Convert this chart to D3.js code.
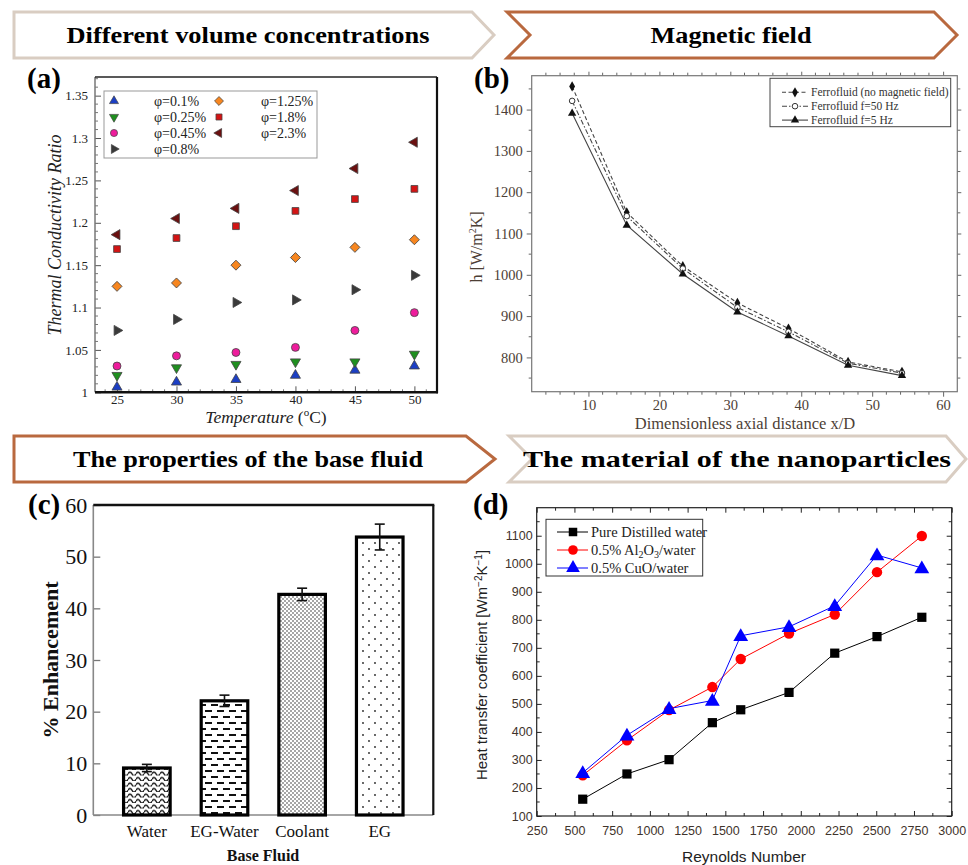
<!DOCTYPE html>
<html lang="en">
<head>
  <meta charset="UTF-8">
  <title>Nanofluid heat transfer factors</title>
  <script src="https://d3js.org/d3.v7.min.js"></script>
  <style>
    body { margin: 0; background: #fff; }
    svg { display: block; }
  </style>
</head>
<body>
  <svg width="968" height="865"></svg>
  <script>

    // header titles
    const headerTitles = ["Different volume concentrations", "Magnetic field",
      "The properties of the base fluid", "The material of the nanoparticles"];

    // (a) thermal conductivity ratio vs temperature
    const tcTemps = [25, 30, 35, 40, 45, 50];
    const tcLabels = ["φ=0.1%", "φ=0.25%", "φ=0.45%", "φ=0.8%", "φ=1.25%", "φ=1.8%", "φ=2.3%"];
    const phi01 = [1.006, 1.012, 1.015, 1.020, 1.026, 1.031];
    const phi025 = [1.020, 1.029, 1.033, 1.036, 1.036, 1.045];
    const phi045 = [1.031, 1.043, 1.047, 1.053, 1.073, 1.094];
    const phi08 = [1.073, 1.086, 1.106, 1.109, 1.121, 1.138];
    const phi125 = [1.125, 1.129, 1.150, 1.159, 1.171, 1.180];
    const phi18 = [1.169, 1.182, 1.196, 1.214, 1.228, 1.240];
    const phi23 = [1.186, 1.205, 1.217, 1.238, 1.264, 1.295];

    // (b) h vs x/D
    const xdPos = [7.7, 15.4, 23.3, 31, 38.2, 46.6, 54.2];
    const hNoField = [1456, 1151, 1021, 932, 870, 789, 765];
    const h50Hz = [1421, 1142, 1015, 921, 862, 786, 762];
    const h5Hz = [1391, 1120, 1002, 910, 852, 781, 756];
    const magLabels = ["Ferrofluid (no magnetic field)", "Ferrofluid f=50 Hz", "Ferrofluid f=5 Hz"];

    // (c) enhancement by base fluid
    const baseFluids = ["Water", "EG-Water", "Coolant", "EG"];
    const enhancement = [9.1, 22.1, 42.7, 53.8];
    const enhancementErr = [0.7, 1.1, 1.2, 2.5];

    // (d) h vs Reynolds number
    const reynolds = [555, 848, 1127, 1414, 1602, 1922, 2225, 2505, 2802];
    const hWater = [160, 250, 301, 433, 479, 541, 681, 740, 809];
    const hAl2O3 = [245, 370, 478, 560, 660, 751, 819, 970, 1099];
    const hCuO = [254, 388, 483, 512, 743, 775, 850, 1031, 985];

    const SERIF = "Liberation Serif, Times New Roman, serif";
    const SANS = "Liberation Sans, Arial, sans-serif";

    const svg = d3.select("svg");
    const defs = svg.append("defs");

    // ---------- headers ----------
    const headerBoxes = [
      {x0: 14, x1: 472, tip: 494, y0: 12, y1: 58, notch: 0, color: "#d9cdc2", tx: 248, tw: 363},
      {x0: 507, x1: 934, tip: 957, y0: 12, y1: 58, notch: 23, color: "#b9693f", tx: 731, tw: 161},
      {x0: 14, x1: 466, tip: 495, y0: 436, y1: 482, notch: 0, color: "#b9693f", tx: 248, tw: 350},
      {x0: 509, x1: 946, tip: 966, y0: 436, y1: 482, notch: 23, color: "#d9cdc2", tx: 737, tw: 428}
    ];
    headerBoxes.forEach((b, i) => {
      const ym = (b.y0 + b.y1) / 2;
      const p = d3.path();
      p.moveTo(b.x0, b.y0); p.lineTo(b.x1, b.y0); p.lineTo(b.tip, ym);
      p.lineTo(b.x1, b.y1); p.lineTo(b.x0, b.y1);
      if (b.notch) p.lineTo(b.x0 + b.notch, ym);
      p.closePath();
      svg.append("path").attr("d", p.toString())
        .attr("fill", "#fff").attr("stroke", b.color).attr("stroke-width", 3);
      svg.append("text").attr("font-family", SERIF)
        .attr("x", b.tx).attr("y", ym + 8)
        .attr("text-anchor", "middle")
        .attr("font-size", 23).attr("font-weight", "bold")
        .attr("textLength", b.tw).attr("lengthAdjust", "spacingAndGlyphs")
        .text(headerTitles[i]);
    });

    // panel letters
    [["(a)", 27, 88], ["(b)", 474, 88], ["(c)", 28, 514], ["(d)", 473, 514]].forEach(d => {
      svg.append("text").attr("font-family", SERIF).attr("x", d[1]).attr("y", d[2])
        .attr("font-size", 29).attr("font-weight", "bold").text(d[0]);
    });

    function minorTicks(g, scale, values, orient, pos, len, color) {
      values.forEach(v => {
        const p = scale(v);
        if (orient === "x") {
          g.append("line").attr("x1", p).attr("x2", p).attr("y1", pos).attr("y2", pos + len)
            .attr("stroke", color).attr("stroke-width", 1);
        } else {
          g.append("line").attr("y1", p).attr("y2", p).attr("x1", pos).attr("x2", pos + len)
            .attr("stroke", color).attr("stroke-width", 1);
        }
      });
    }

    // ---------- (a) ----------
    {
      const L = 95, R = 437, T = 77, B = 392.3;
      const x = d3.scaleLinear().domain([23.15, 51.9]).range([L, R]);
      const y = d3.scaleLinear().domain([1, 1.372]).range([B, T]);
      const g = svg.append("g").attr("font-family", SERIF);

      const xAxis = g.append("g").attr("transform", `translate(0,${B})`)
        .call(d3.axisBottom(x).tickValues(tcTemps).tickSize(-6).tickPadding(2));
      const yAxis = g.append("g").attr("transform", `translate(${L},0)`)
        .call(d3.axisLeft(y).tickValues(d3.range(1, 1.351, 0.05)).tickSize(-6).tickPadding(7)
          .tickFormat(d => String(+d.toFixed(2))));
      [xAxis, yAxis].forEach(a => {
        a.select(".domain").remove();
        a.selectAll("line").attr("stroke", "#555");
        a.selectAll("text").attr("font-family", SERIF).attr("font-size", 13).attr("fill", "#222");
      });
      minorTicks(g, x, d3.range(24, 52, 1).filter(v => v % 5), "x", B, -3, "#777");
      minorTicks(g, y, d3.range(1.01, 1.37, 0.01).filter(v => Math.round(v * 100) % 5), "y", L, 3, "#777");

      g.append("line").attr("x1", L).attr("x2", L).attr("y1", T).attr("y2", B).attr("stroke", "#777").attr("stroke-width", 1.5);
      g.append("line").attr("x1", L).attr("x2", R).attr("y1", T).attr("y2", T).attr("stroke", "#222").attr("stroke-width", 1.5);
      g.append("line").attr("x1", R).attr("x2", R).attr("y1", T).attr("y2", B + 1).attr("stroke", "#111").attr("stroke-width", 2.2);
      g.append("line").attr("x1", L).attr("x2", R + 1).attr("y1", B).attr("y2", B).attr("stroke", "#111").attr("stroke-width", 2.5);

      const tcSeries = [phi01, phi025, phi045, phi08, phi125, phi18, phi23];
      const styles = [
        {type: d3.symbolTriangle, rot: 0, size: 44, fill: "#1c3fc4"},
        {type: d3.symbolTriangle, rot: 180, size: 44, fill: "#1f8f1f"},
        {type: d3.symbolCircle, rot: 0, size: 50, fill: "#ee1c9c"},
        {type: d3.symbolTriangle, rot: 90, size: 44, fill: "#3a3a3a"},
        {type: d3.symbolSquare, rot: 45, size: 50, fill: "#f7861f"},
        {type: d3.symbolSquare, rot: 0, size: 46, fill: "#d31414"},
        {type: d3.symbolTriangle, rot: -90, size: 44, fill: "#6a1010"}
      ];
      const sym = s => d3.symbol().type(s.type).size(s.size)();

      tcSeries.forEach((vals, si) => {
        const s = styles[si];
        g.append("g").selectAll("path").data(vals).join("path")
          .attr("d", sym(s))
          .attr("transform", (d, i) => `translate(${x(tcTemps[i])},${y(d)}) rotate(${s.rot})`)
          .attr("fill", s.fill).attr("stroke", "#444").attr("stroke-width", 0.8);
      });

      // legend
      const lg = g.append("g");
      lg.append("rect").attr("x", 104).attr("y", 91).attr("width", 213).attr("height", 67)
        .attr("fill", "#fff").attr("stroke", "#999").attr("stroke-width", 1);
      tcLabels.forEach((lab, i) => {
        const col = i < 4 ? 0 : 1;
        const row = i < 4 ? i : i - 4;
        const my = 101 + row * 16;
        const mx = col ? 219 : 114;
        const s = styles[i];
        lg.append("path").attr("d", sym({...s, size: s.size * 0.8}))
          .attr("transform", `translate(${mx},${my}) rotate(${s.rot})`)
          .attr("fill", s.fill).attr("stroke", "#444").attr("stroke-width", 0.7);
        lg.append("text").attr("x", col ? 261 : 154).attr("y", my + 5)
          .attr("font-size", 14).attr("fill", "#222").text(lab);
      });

      g.append("text").attr("transform", "translate(61,235) rotate(-90)")
        .attr("text-anchor", "middle").attr("font-size", 18).attr("font-style", "italic")
        .attr("fill", "#222").text("Thermal Conductivity Ratio");
      const xt = g.append("text").attr("x", 266).attr("y", 423).attr("text-anchor", "middle")
        .attr("font-size", 17.5).attr("fill", "#222");
      xt.append("tspan").attr("font-style", "italic").text("Temperature ");
      xt.append("tspan").text("(");
      xt.append("tspan").attr("font-size", 11).attr("dy", -7).text("o");
      xt.append("tspan").attr("dy", 7).text("C)");
    }

    // ---------- (b) ----------
    {
      const L = 531.7, R = 957.3, T = 75.7, B = 391.7;
      const x = d3.scaleLinear().domain([2, 62]).range([L, R]);
      const y = d3.scaleLinear().domain([717, 1482]).range([B, T]);
      const g = svg.append("g").attr("font-family", SERIF);
      const labelColor = "#4d4036";

      const xAxis = g.append("g").attr("transform", `translate(0,${B})`)
        .call(d3.axisBottom(x).tickValues(d3.range(10, 61, 10)).tickSize(5).tickPadding(3).tickFormat(d3.format("d")));
      const yAxis = g.append("g").attr("transform", `translate(${L},0)`)
        .call(d3.axisLeft(y).tickValues(d3.range(800, 1401, 100)).tickSize(5).tickPadding(4).tickFormat(d3.format("d")));
      const xTop = g.append("g").attr("transform", `translate(0,${T})`)
        .call(d3.axisTop(x).tickValues(d3.range(10, 61, 10)).tickSize(4).tickFormat(""));
      const yRight = g.append("g").attr("transform", `translate(${R},0)`)
        .call(d3.axisRight(y).tickValues(d3.range(800, 1401, 100)).tickSize(4).tickFormat(""));
      [xAxis, yAxis, xTop, yRight].forEach(a => {
        a.select(".domain").remove();
        a.selectAll("line").attr("stroke", "#666");
        a.selectAll("text").attr("font-family", SERIF).attr("font-size", 14.5).attr("fill", labelColor);
      });
      const xm = d3.range(4, 62, 2).filter(v => v % 10);
      const ym = d3.range(750, 1480, 100);
      minorTicks(g, x, xm, "x", B, 3, "#666");
      minorTicks(g, x, xm, "x", T, -3, "#666");
      minorTicks(g, y, ym, "y", L, -3, "#666");
      minorTicks(g, y, ym, "y", R, 3, "#666");
      g.append("rect").attr("x", L).attr("y", T).attr("width", R - L).attr("height", B - T)
        .attr("fill", "none").attr("stroke", "#777").attr("stroke-width", 1.2);

      const magSeries = [hNoField, h50Hz, h5Hz];
      const dashes = ["4,2.5", "5,2,1.5,2", null];
      const line = d3.line().x((d, i) => x(xdPos[i])).y(d => y(d));
      const drawMarker = (sel, si, cx, cy) => {
        if (si === 0) {
          sel.append("path").attr("d", d3.symbol().type(d3.symbolDiamond).size(30)())
            .attr("transform", `translate(${cx},${cy})`).attr("fill", "#111");
        } else if (si === 1) {
          sel.append("circle").attr("cx", cx).attr("cy", cy).attr("r", 2.8)
            .attr("fill", "#fff").attr("stroke", "#333").attr("stroke-width", 1);
        } else {
          sel.append("path").attr("d", d3.symbol().type(d3.symbolTriangle).size(30)())
            .attr("transform", `translate(${cx},${cy})`).attr("fill", "#111");
        }
      };
      magSeries.forEach((vals, si) => {
        g.append("path").datum(vals).attr("d", line).attr("fill", "none")
          .attr("stroke", "#444").attr("stroke-width", 1.1)
          .attr("stroke-dasharray", dashes[si]);
      });
      magSeries.forEach((vals, si) => {
        vals.forEach((v, i) => drawMarker(g, si, x(xdPos[i]), y(v)));
      });

      const lg = g.append("g");
      lg.append("rect").attr("x", 770).attr("y", 78.3).attr("width", 180.7).attr("height", 48.4)
        .attr("fill", "#fff").attr("stroke", "#444").attr("stroke-width", 1);
      magLabels.forEach((lab, i) => {
        const ly = 92.3 + i * 13.9;
        lg.append("line").attr("x1", 782).attr("x2", 808).attr("y1", ly).attr("y2", ly)
          .attr("stroke", "#444").attr("stroke-width", 1.1).attr("stroke-dasharray", dashes[i]);
        drawMarker(lg, i, 795, ly);
        lg.append("text").attr("x", 811).attr("y", ly + 4).attr("font-size", 11.5)
          .attr("fill", "#333").text(lab);
      });

      const yt = g.append("text").attr("transform", "translate(482,247) rotate(-90)")
        .attr("text-anchor", "middle").attr("font-size", 16).attr("fill", labelColor);
      yt.append("tspan").text("h [W/m");
      yt.append("tspan").attr("font-size", 10).attr("dy", -6).text("2");
      yt.append("tspan").attr("dy", 6).text("K]");
      g.append("text").attr("x", 745).attr("y", 429).attr("text-anchor", "middle")
        .attr("font-size", 16.5).attr("fill", labelColor).text("Dimensionless axial distance x/D");
    }

    // ---------- (c) ----------
    {
      const L = 93.3, R = 433.3, T = 505, B = 815;
      const x = d3.scaleBand().domain(baseFluids).range([L, R]).paddingInner(0.4).paddingOuter(0.39);
      const y = d3.scaleLinear().domain([0, 60]).range([B, T]);
      const g = svg.append("g").attr("font-family", SERIF);

      // fill patterns
      const pw = defs.append("pattern").attr("id", "pat-wave").attr("patternUnits", "userSpaceOnUse")
        .attr("width", 8).attr("height", 5.5);
      pw.append("rect").attr("width", 8).attr("height", 5.5).attr("fill", "#fff");
      pw.append("path").attr("d", "M0,3.8 Q2,0.2 4,3.8 T8,3.8").attr("fill", "none")
        .attr("stroke", "#111").attr("stroke-width", 1.3);
      const pd = defs.append("pattern").attr("id", "pat-dash").attr("patternUnits", "userSpaceOnUse")
        .attr("width", 12).attr("height", 12);
      pd.append("rect").attr("width", 12).attr("height", 12).attr("fill", "#fff");
      pd.append("path").attr("d", "M1,3H8M7,9H12M0,9H2").attr("stroke", "#111").attr("stroke-width", 1.8);
      const pc = defs.append("pattern").attr("id", "pat-fine").attr("patternUnits", "userSpaceOnUse")
        .attr("width", 4).attr("height", 4);
      pc.append("rect").attr("width", 4).attr("height", 4).attr("fill", "#fff");
      pc.append("circle").attr("cx", 1).attr("cy", 1).attr("r", 0.75).attr("fill", "#222");
      pc.append("circle").attr("cx", 3).attr("cy", 3).attr("r", 0.75).attr("fill", "#222");
      const ps = defs.append("pattern").attr("id", "pat-sparse").attr("patternUnits", "userSpaceOnUse")
        .attr("width", 12).attr("height", 12);
      ps.append("rect").attr("width", 12).attr("height", 12).attr("fill", "#fff");
      ps.append("circle").attr("cx", 3).attr("cy", 3).attr("r", 0.9).attr("fill", "#222");
      ps.append("circle").attr("cx", 9).attr("cy", 9).attr("r", 0.9).attr("fill", "#222");
      const fills = ["url(#pat-wave)", "url(#pat-dash)", "url(#pat-fine)", "url(#pat-sparse)"];

      const yAxis = g.append("g").attr("transform", `translate(${L},0)`)
        .call(d3.axisLeft(y).tickValues(d3.range(0, 61, 10)).tickSize(-7).tickPadding(6));
      yAxis.select(".domain").remove();
      yAxis.selectAll("line").attr("stroke", "#777").attr("stroke-width", 1.3);
      yAxis.selectAll("text").attr("font-family", SERIF).attr("font-size", 22).attr("fill", "#111");

      g.append("line").attr("x1", L).attr("x2", L).attr("y1", T).attr("y2", B).attr("stroke", "#888").attr("stroke-width", 1.6);
      g.append("line").attr("x1", L).attr("x2", R).attr("y1", B).attr("y2", B).attr("stroke", "#888").attr("stroke-width", 1.6);
      g.append("line").attr("x1", L).attr("x2", R + 1).attr("y1", T).attr("y2", T).attr("stroke", "#111").attr("stroke-width", 2.5);
      g.append("line").attr("x1", R).attr("x2", R).attr("y1", T).attr("y2", B).attr("stroke", "#111").attr("stroke-width", 2.2);

      g.selectAll("rect.bar").data(baseFluids).join("rect").attr("class", "bar")
        .attr("x", d => x(d)).attr("width", x.bandwidth())
        .attr("y", (d, i) => y(enhancement[i])).attr("height", (d, i) => B - y(enhancement[i]))
        .attr("fill", (d, i) => fills[i]).attr("stroke", "#000").attr("stroke-width", 3.2);

      baseFluids.forEach((d, i) => {
        const cx = x(d) + x.bandwidth() / 2;
        const y0 = y(enhancement[i] - enhancementErr[i]), y1 = y(enhancement[i] + enhancementErr[i]);
        g.append("line").attr("x1", cx).attr("x2", cx).attr("y1", y0).attr("y2", y1).attr("stroke", "#111").attr("stroke-width", 1.6);
        [y0, y1].forEach(yy => g.append("line").attr("x1", cx - 5).attr("x2", cx + 5)
          .attr("y1", yy).attr("y2", yy).attr("stroke", "#111").attr("stroke-width", 1.6));
        g.append("text").attr("x", cx).attr("y", 837).attr("text-anchor", "middle")
          .attr("font-size", 17).attr("fill", "#111").text(d);
      });

      g.append("text").attr("x", 263).attr("y", 861).attr("text-anchor", "middle")
        .attr("font-size", 16).attr("font-weight", "bold").attr("fill", "#111").text("Base Fluid");
      g.append("text").attr("transform", "translate(58,660) rotate(-90)")
        .attr("text-anchor", "middle").attr("font-size", 22).attr("font-weight", "bold")
        .attr("fill", "#111").text("% Enhancement");
    }

    // ---------- (d) ----------
    {
      const L = 536.7, R = 951.7, T = 507.7, B = 816;
      const x = d3.scaleLinear().domain([250, 3000]).range([L, R]);
      const y = d3.scaleLinear().domain([100, 1200]).range([B, T]);
      const g = svg.append("g").attr("font-family", SANS);
      const labelColor = "#3f342c";

      const xt = d3.range(250, 3001, 250), yt = d3.range(100, 1101, 100);
      const xAxis = g.append("g").attr("transform", `translate(0,${B})`)
        .call(d3.axisBottom(x).tickValues(xt).tickSize(-5).tickPadding(10).tickFormat(d3.format("d")));
      const yAxis = g.append("g").attr("transform", `translate(${L},0)`)
        .call(d3.axisLeft(y).tickValues(yt).tickSize(-5).tickPadding(4).tickFormat(d3.format("d")));
      const xTop = g.append("g").attr("transform", `translate(0,${T})`)
        .call(d3.axisTop(x).tickValues(xt).tickSize(-5).tickFormat(""));
      const yRight = g.append("g").attr("transform", `translate(${R},0)`)
        .call(d3.axisRight(y).tickValues(yt).tickSize(-5).tickFormat(""));
      [xAxis, yAxis, xTop, yRight].forEach(a => {
        a.select(".domain").remove();
        a.selectAll("line").attr("stroke", "#222");
        a.selectAll("text").attr("font-family", SANS).attr("font-size", 12.5).attr("fill", labelColor);
      });
      const xm = d3.range(375, 3000, 250), ym = d3.range(150, 1200, 100);
      minorTicks(g, x, xm, "x", B, -3, "#222");
      minorTicks(g, x, xm, "x", T, 3, "#222");
      minorTicks(g, y, ym, "y", L, 3, "#222");
      minorTicks(g, y, ym, "y", R, -3, "#222");
      g.append("rect").attr("x", L).attr("y", T).attr("width", R - L).attr("height", B - T)
        .attr("fill", "none").attr("stroke", "#222").attr("stroke-width", 1.2);

      const reSeries = [hWater, hAl2O3, hCuO];
      const colors = ["#000", "#ff0000", "#0000ff"];
      const symTypes = [d3.symbolSquare, d3.symbolCircle, d3.symbolTriangle];
      const symSizes = [85, 85, 95];
      const line = d3.line().x((d, i) => x(reynolds[i])).y(d => y(d));
      reSeries.forEach((vals, si) => {
        g.append("path").datum(vals).attr("d", line).attr("fill", "none")
          .attr("stroke", colors[si]).attr("stroke-width", 1);
      });
      reSeries.forEach((vals, si) => {
        g.append("g").selectAll("path").data(vals).join("path")
          .attr("d", d3.symbol().type(symTypes[si]).size(symSizes[si])())
          .attr("transform", (d, i) => `translate(${x(reynolds[i])},${y(d) + (si === 2 ? 1 : 0)})`)
          .attr("fill", colors[si]);
      });

      const lg = g.append("g").attr("font-family", SERIF);
      lg.append("rect").attr("x", 546).attr("y", 519.3).attr("width", 156.7).attr("height", 56.7)
        .attr("fill", "#fff").attr("stroke", "#333").attr("stroke-width", 1);
      const legendLabels = [
        [["Pure Distilled water", 0]],
        [["0.5% Al", 0], ["2", 1], ["O", 0], ["3", 1], ["/water", 0]],
        [["0.5% CuO/water", 0]]
      ];
      legendLabels.forEach((parts, i) => {
        const ly = 532 + i * 18;
        lg.append("line").attr("x1", 557).attr("x2", 588).attr("y1", ly).attr("y2", ly)
          .attr("stroke", colors[i]).attr("stroke-width", 1);
        lg.append("path").attr("d", d3.symbol().type(symTypes[i]).size(symSizes[i] * 0.85)())
          .attr("transform", `translate(573,${ly})`).attr("fill", colors[i]);
        const t = lg.append("text").attr("x", 591).attr("y", ly + 5)
          .attr("font-family", SERIF).attr("font-size", 14.5).attr("fill", "#222");
        parts.forEach(p => t.append("tspan").attr("font-size", p[1] ? 10 : 14.5)
          .attr("baseline-shift", p[1] ? "-30%" : null).text(p[0]));
      });

      const ytl = g.append("text").attr("transform", "translate(487,665) rotate(-90)")
        .attr("text-anchor", "middle").attr("font-size", 15).attr("fill", "#222");
      ytl.append("tspan").text("Heat transfer coefficient [Wm");
      ytl.append("tspan").attr("font-size", 10).attr("dy", -5).text("−2");
      ytl.append("tspan").attr("dy", 5).text("K");
      ytl.append("tspan").attr("font-size", 10).attr("dy", -5).text("−1");
      ytl.append("tspan").attr("dy", 5).text("]");
      g.append("text").attr("x", 744).attr("y", 862).attr("text-anchor", "middle")
        .attr("font-size", 15.5).attr("fill", "#222").text("Reynolds Number");
    }
  </script>
</body>
</html>
